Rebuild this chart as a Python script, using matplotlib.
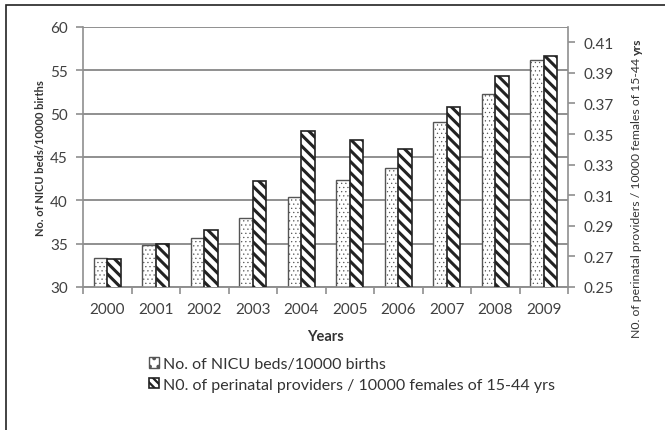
import numpy as np
import matplotlib
matplotlib.use("Agg")
import matplotlib.pyplot as plt
from matplotlib.patches import Patch, Rectangle

# data
years = ['2000', '2001', '2002', '2003', '2004', '2005', '2006', '2007', '2008', '2009']
nicu_beds = [33.4, 34.9, 35.7, 38.0, 40.4, 42.3, 43.7, 49.0, 52.3, 56.2]
perinatal_providers = [0.268, 0.278, 0.287, 0.319, 0.352, 0.346, 0.340, 0.368, 0.388, 0.401]

left_ticks = [30, 35, 40, 45, 50, 55, 60]
right_ticks = [0.25, 0.27, 0.29, 0.31, 0.33, 0.35, 0.37, 0.39, 0.41]

W, H = 665, 431
plt.rcParams['font.family'] = ['Lato', 'DejaVu Sans']

def px(x, y):
    return x / W, 1 - y / H

fig = plt.figure(figsize=(W / 100, H / 100), dpi=100)
fig.patch.set_facecolor('white')

# outer frame
fig.patches.append(Rectangle(px(6, 440), 1.0, (H - 6 + 9) / H, transform=fig.transFigure,
                             fill=False, edgecolor='#222222', linewidth=1.2))

ax1 = fig.add_axes([83 / W, 1 - 288 / H, (568 - 83) / W, (288 - 28) / H])
ax2 = ax1.twinx()

x = np.arange(len(years))
w = 0.28
grid_c = '#8f8f8f'
text_c = '#404040'
dot_hatch = '....'
stripe_hatch = '\\\\\\'

ax1.set_axisbelow(True)
plt.rcParams['hatch.linewidth'] = 0.4
b1 = ax1.bar(x - w / 2, nicu_beds, w, color='white', edgecolor='#555555',
             linewidth=1.0, hatch=dot_hatch, zorder=3)
plt.rcParams['hatch.linewidth'] = 2.2
b2 = ax2.bar(x + w / 2, perinatal_providers, w, color='white', edgecolor='#222222',
             linewidth=1.2, hatch=stripe_hatch, zorder=3)

ax1.set_ylim(30, 60)
ax1.set_yticks(left_ticks)
ax2.set_ylim(0.25, 0.42)
ax2.set_yticks(right_ticks)
ax2.set_yticklabels(['%.2f' % v for v in right_ticks])
ax1.set_xlim(-0.5, len(years) - 0.5)
ax1.set_xticks(x)
ax1.set_xticklabels(years)
ax1.set_xticks(np.arange(-0.5, len(years)), minor=True)

ax1.yaxis.grid(True, color=grid_c, linewidth=1.4)
ax1.xaxis.grid(False)

for a in (ax1, ax2):
    for s in a.spines.values():
        s.set_color(grid_c)
        s.set_linewidth(1.2)
    a.spines['top'].set_visible(False)
    a.tick_params(axis='both', colors=grid_c, labelcolor=text_c, labelsize=11, width=1.2, length=5)
ax1.spines['right'].set_visible(False)
ax2.spines['left'].set_visible(False)
ax1.tick_params(axis='x', which='major', length=0, pad=11)
ax1.tick_params(axis='x', which='minor', length=5, width=1.2, color=grid_c)
ax1.tick_params(axis='y', pad=6)
ax2.tick_params(axis='y', pad=6)

ax1.set_xlabel('Years', fontsize=10.5, fontweight='bold', color='#333333', labelpad=9)
fig.text(*px(41, 158), 'No. of NICU beds/10000 births', rotation=90, ha='center', va='center',
         fontsize=8, fontweight='bold', color='#333333')

# right axis label: regular text with the unit in bold
rl = fig.text(*px(637, 338), 'N0. of perinatal providers / 10000 females of 15-44 ',
              rotation=90, ha='center', va='bottom', fontsize=8.8, color='#333333')
fig.canvas.draw()
bb = rl.get_window_extent()
fig.text(*px(637, H - bb.y1), 'yrs', rotation=90, ha='center', va='bottom',
         fontsize=8.8, fontweight='bold', color='#333333')

plt.rcParams['hatch.linewidth'] = 0.4
h1 = Patch(facecolor='white', edgecolor='#555555', hatch='..', linewidth=1.0)
plt.rcParams['hatch.linewidth'] = 1.6
h2 = Patch(facecolor='white', edgecolor='#222222', hatch='\\\\\\\\', linewidth=1.2)
labels = ['No. of NICU beds/10000 births',
          'N0. of perinatal providers / 10000 females of 15-44 yrs']
fig.legend([h1, h2], labels, loc='upper left', bbox_to_anchor=px(149, 358), frameon=False,
           fontsize=11.5, handlelength=0.65, handleheight=0.65, handletextpad=0.25,
           borderpad=0, borderaxespad=0, labelspacing=0.42, labelcolor='#333333')

fig.savefig('out.png', dpi=100, facecolor='white')
